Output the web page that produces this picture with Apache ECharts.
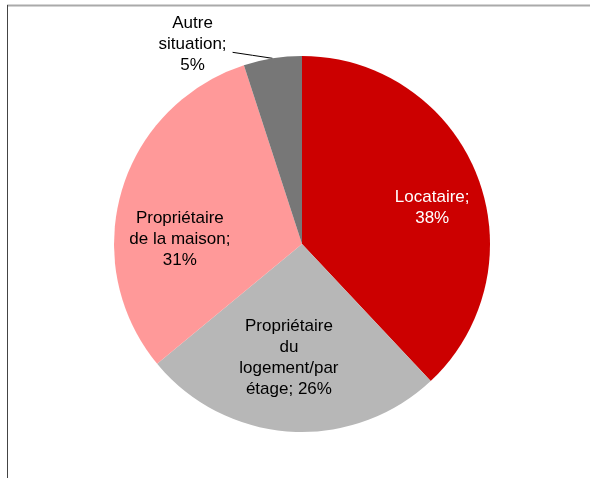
<!DOCTYPE html>
<html>
<head>
<meta charset="utf-8">
<script src="https://cdn.jsdelivr.net/npm/echarts@6/dist/echarts.min.js"></script>
<style>
  html, body { margin: 0; padding: 0; background: #fff; }
  #chart { width: 590px; height: 478px; }
</style>
</head>
<body>
<div id="chart"></div>
<script>
var names = ['Locataire', 'Propriétaire\ndu\nlogement/par\nétage', 'Propriétaire\nde la maison', 'Autre\nsituation'];
var values = [38, 26, 31, 5];
var colors = ['#CC0000', '#B7B7B7', '#FF9999', '#777777'];

// nudge of each label from the default inside position
var offsets = [[40, 0], [-7, 17], [-29, 22], [0, 0]];

var chart = echarts.init(document.getElementById('chart'));

var data = names.map(function (n, i) {
  var item = {
    name: n,
    value: values[i],
    itemStyle: { color: colors[i] },
    label: {
      position: 'inside',
      offset: offsets[i],
      color: i === 0 ? '#FFFFFF' : '#000000'
    }
  };
  if (i === 3) {
    item.label = { position: 'outside', color: '#000000' };
    item.labelLine = { show: true, length: 0.1, length2: 40, lineStyle: { color: '#000', width: 1 } };
  }
  return item;
});

var option = {
  animation: false,
  graphic: [
    { type: 'line', shape: { x1: 7, y1: 5.5, x2: 590, y2: 5.5 }, style: { stroke: '#AAAAAA', lineWidth: 2 } },
    { type: 'line', shape: { x1: 7.5, y1: 5, x2: 7.5, y2: 478 }, style: { stroke: '#444444', lineWidth: 1 } }
  ],
  series: [
    {
      type: 'pie',
      center: [302, 244],
      radius: 188,
      startAngle: 90,
      clockwise: true,
      avoidLabelOverlap: false,
      label: {
        show: true,
        fontFamily: 'Liberation Sans, Arial, sans-serif',
        fontSize: 17,
        lineHeight: 21,
        formatter: function (p) {
          return p.name + (p.dataIndex === 1 ? '; ' : ';\n') + p.value + '%';
        }
      },
      labelLayout: function (p) {
        if (p.dataIndex !== 3) return;
        var s = p.labelLinePoints && p.labelLinePoints[0];
        var res = { align: 'center', dx: -35, dy: -14 };
        if (s) {
          res.labelLinePoints = [s, [s[0] - 20, s[1] - 3], [s[0] - 40, s[1] - 6]];
        }
        return res;
      },
      emphasis: { disabled: true },
      data: data
    }
  ]
};
option && chart.setOption(option);
</script>
</body>
</html>
